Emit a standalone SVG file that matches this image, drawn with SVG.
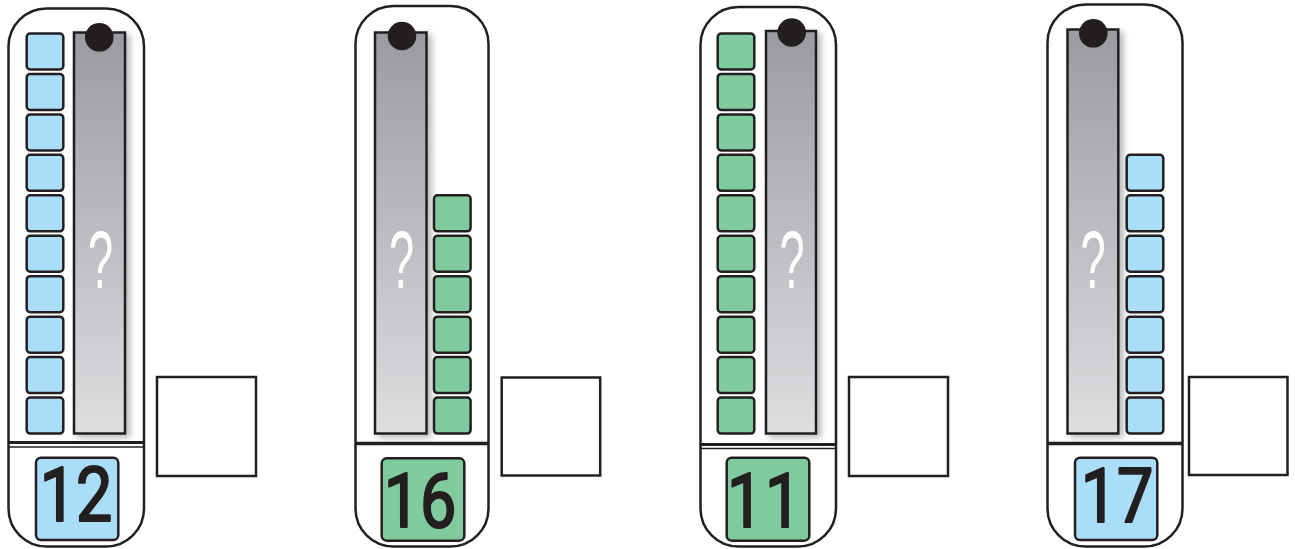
<svg xmlns="http://www.w3.org/2000/svg" width="1295" height="549" viewBox="0 0 1295 549">
<style>
.outer{fill:#fff;stroke:#231f20;stroke-width:2.5}
.tb{fill:#a9ddf8;stroke:#231f20;stroke-width:2.5}
.tg{fill:#80cb9d;stroke:#231f20;stroke-width:2.5}
.bar{fill:url(#grad);stroke:#231f20;stroke-width:2.5}
.dot{fill:#231f20}
.div{stroke:#231f20;stroke-width:3}
.div2{stroke:#231f20;stroke-width:1.6}
.ans{fill:#fff;stroke:#231f20;stroke-width:2.5}
.q{fill:#fff;font-family:"Liberation Sans",Arial,sans-serif;font-size:82px;text-anchor:middle}
.num{fill:#231f20;stroke:#231f20;stroke-width:2.2;stroke-linejoin:round;font-family:Roboto,"Noto Sans",sans-serif;font-size:76px;text-anchor:middle}
</style>
<defs>
<linearGradient id="grad" x1="0" y1="0" x2="0" y2="1">
<stop offset="0" stop-color="#9a9b9f"/>
<stop offset="1" stop-color="#dddee0"/>
</linearGradient>
<filter id="sh" x="-30%" y="-5%" width="170%" height="112%">
<feGaussianBlur in="SourceAlpha" stdDeviation="3"/>
<feOffset dx="4" dy="3" result="o"/>
<feComponentTransfer><feFuncA type="linear" slope="0.28"/></feComponentTransfer>
<feMerge><feMergeNode/><feMergeNode in="SourceGraphic"/></feMerge>
</filter>
</defs>

<g id="panel1">
<rect class="outer" x="8.5" y="8.5" width="135.5" height="538" rx="38"/>
<g class="tb">
<rect x="26.7" y="33.5" width="36.6" height="36" rx="3.5"/>
<rect x="26.7" y="73.95" width="36.6" height="36" rx="3.5"/>
<rect x="26.7" y="114.4" width="36.6" height="36" rx="3.5"/>
<rect x="26.7" y="154.85" width="36.6" height="36" rx="3.5"/>
<rect x="26.7" y="195.3" width="36.6" height="36" rx="3.5"/>
<rect x="26.7" y="235.75" width="36.6" height="36" rx="3.5"/>
<rect x="26.7" y="276.2" width="36.6" height="36" rx="3.5"/>
<rect x="26.7" y="316.65" width="36.6" height="36" rx="3.5"/>
<rect x="26.7" y="357.1" width="36.6" height="36" rx="3.5"/>
<rect x="26.7" y="397.55" width="36.6" height="36" rx="3.5"/>
</g>
<rect class="bar" x="74" y="32.5" width="51" height="401" filter="url(#sh)"/>
<circle class="dot" cx="99.3" cy="37.3" r="14.3"/>
<text class="q" transform="translate(100.5 288) scale(0.55 1)">?</text>
<line class="div" x1="9" y1="442.5" x2="144" y2="442.5"/>
<line class="div2" x1="9" y1="447" x2="144" y2="447"/>
<rect class="tb" x="36" y="457.7" width="82.3" height="82.3" rx="5"/>
<text class="num" transform="translate(76 521) scale(0.85 1)">12</text>
<rect class="ans" x="157" y="377" width="99" height="99"/>
</g>

<g id="panel2">
<rect class="outer" x="355.5" y="6" width="133" height="540.5" rx="38"/>
<rect class="bar" x="375" y="32.5" width="51.5" height="401" filter="url(#sh)"/>
<circle class="dot" cx="402" cy="36" r="14.3"/>
<text class="q" transform="translate(401.5 288) scale(0.55 1)">?</text>
<g class="tg">
<rect x="434" y="195.3" width="36.6" height="36" rx="3.5"/>
<rect x="434" y="235.75" width="36.6" height="36" rx="3.5"/>
<rect x="434" y="276.2" width="36.6" height="36" rx="3.5"/>
<rect x="434" y="316.65" width="36.6" height="36" rx="3.5"/>
<rect x="434" y="357.1" width="36.6" height="36" rx="3.5"/>
<rect x="434" y="397.55" width="36.6" height="36" rx="3.5"/>
</g>
<line class="div" x1="356" y1="443.5" x2="488" y2="443.5" style="stroke-width:3.5"/>
<rect class="tg" x="381.7" y="458.3" width="82.6" height="82.4" rx="5"/>
<text class="num" transform="translate(420 527) scale(0.85 1)">16</text>
<rect class="ans" x="501.7" y="377.5" width="98.5" height="98"/>
</g>

<g id="panel3">
<rect class="outer" x="700.5" y="7" width="135.5" height="539.5" rx="38"/>
<g class="tg">
<rect x="717.7" y="33.5" width="36.6" height="36" rx="3.5"/>
<rect x="717.7" y="73.95" width="36.6" height="36" rx="3.5"/>
<rect x="717.7" y="114.4" width="36.6" height="36" rx="3.5"/>
<rect x="717.7" y="154.85" width="36.6" height="36" rx="3.5"/>
<rect x="717.7" y="195.3" width="36.6" height="36" rx="3.5"/>
<rect x="717.7" y="235.75" width="36.6" height="36" rx="3.5"/>
<rect x="717.7" y="276.2" width="36.6" height="36" rx="3.5"/>
<rect x="717.7" y="316.65" width="36.6" height="36" rx="3.5"/>
<rect x="717.7" y="357.1" width="36.6" height="36" rx="3.5"/>
<rect x="717.7" y="397.55" width="36.6" height="36" rx="3.5"/>
</g>
<rect class="bar" x="766" y="31" width="50" height="402.5" filter="url(#sh)"/>
<circle class="dot" cx="791.7" cy="32.5" r="14.3"/>
<text class="q" transform="translate(792 288) scale(0.55 1)">?</text>
<line class="div" x1="701" y1="444.5" x2="836" y2="444.5"/>
<line class="div2" x1="701" y1="448.5" x2="836" y2="448.5"/>
<rect class="tg" x="726.7" y="457.7" width="82.6" height="83" rx="5"/>
<text class="num" transform="translate(765 527) scale(0.85 1)" letter-spacing="2">11</text>
<rect class="ans" x="849" y="377" width="99" height="99"/>
</g>

<g id="panel4">
<rect class="outer" x="1047.5" y="4.5" width="135" height="542" rx="38"/>
<rect class="bar" x="1067.5" y="29.5" width="50.8" height="404" filter="url(#sh)"/>
<circle class="dot" cx="1093.3" cy="33.3" r="14.3"/>
<text class="q" transform="translate(1093 288) scale(0.55 1)">?</text>
<g class="tb">
<rect x="1126.7" y="154.85" width="36.6" height="36" rx="3.5"/>
<rect x="1126.7" y="195.3" width="36.6" height="36" rx="3.5"/>
<rect x="1126.7" y="235.75" width="36.6" height="36" rx="3.5"/>
<rect x="1126.7" y="276.2" width="36.6" height="36" rx="3.5"/>
<rect x="1126.7" y="316.65" width="36.6" height="36" rx="3.5"/>
<rect x="1126.7" y="357.1" width="36.6" height="36" rx="3.5"/>
<rect x="1126.7" y="397.55" width="36.6" height="36" rx="3.5"/>
</g>
<line class="div" x1="1048" y1="443.5" x2="1182" y2="443.5" style="stroke-width:3.5"/>
<rect class="tb" x="1075" y="457.7" width="82.3" height="82.3" rx="5"/>
<text class="num" transform="translate(1117 522) scale(0.85 1)">17</text>
<rect class="ans" x="1189" y="377" width="98.5" height="98"/>
</g>
</svg>
